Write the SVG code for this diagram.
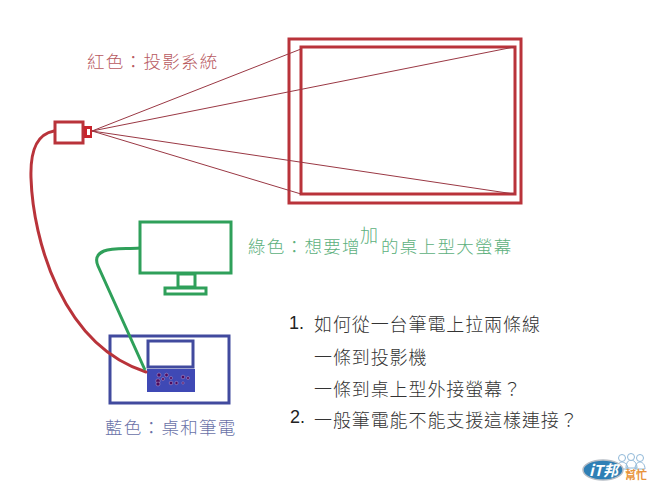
<svg xmlns="http://www.w3.org/2000/svg" width="653" height="490" viewBox="0 0 653 490">
<style>
text{font-family:"Noto Sans CJK TC","Noto Sans CJK JP",sans-serif;font-weight:300}
.r{fill:none;stroke:#b9333a;stroke-width:3}
.ray{fill:none;stroke:#9a3844;stroke-width:1}
.g{fill:none;stroke:#2fa05a;stroke-width:3}
.b{fill:none;stroke:#414a9e;stroke-width:3}
.lab{font-size:17.5px;letter-spacing:1.3px}
.q{font-size:18px;fill:#333;letter-spacing:.9px}
.n{font-family:"Liberation Sans",sans-serif;font-size:18px;fill:#222}
.d{fill:#4d0a5e;stroke:#b9a0d0;stroke-width:.5}
</style>
<rect width="653" height="490" fill="#fff"/>
<g id="screen-outer"><rect class="r" x="289" y="39" width="232" height="164"/></g>
<g id="screen-inner"><rect class="r" x="301" y="47" width="214" height="147"/></g>
<g id="projector">
<rect class="r" x="55" y="122" width="28" height="21"/>
<rect x="84" y="126" width="8" height="12" fill="#c8242c"/>
<rect x="87" y="129" width="3" height="6" fill="#fff"/>
</g>
<g id="monitor">
<rect class="g" x="140" y="222" width="91" height="51"/>
<rect class="g" x="178" y="274" width="17" height="13"/>
<rect class="g" x="165" y="288" width="41" height="6"/>
</g>
<g id="desk"><rect class="b" x="110" y="336" width="119" height="67"/></g>
<g id="laptop">
<rect class="b" x="148" y="341" width="45" height="26"/>
<rect x="147" y="369" width="48" height="23" fill="#3f49b5"/>
<g class="d"><circle cx="159" cy="375" r="2"/><circle cx="166.500" cy="375" r="1.800"/><circle cx="158" cy="381" r="2.200"/><circle cx="163" cy="379" r="1.500"/><circle cx="158" cy="384" r="2"/><circle cx="171" cy="378" r="1.500"/><circle cx="171" cy="383" r="1.800"/><circle cx="176.500" cy="383" r="1.600"/><circle cx="183" cy="377" r="1.800"/><circle cx="188" cy="378" r="1.500"/><circle cx="183" cy="383" r="1.200"/></g>
</g>
<g id="connectors">
<path class="r" d="M54 131C38 134 30 148 31 178C33 240 62 345 146 372" stroke-linecap="round"/>
<path class="g" d="M140 248C125 249 112 248 104 251C97 254 95 259 98 266L145 370"/>
<path class="ray" d="M92 131L301 49M92 131L514 47M92 131L514 194M92 131L301 194"/>
</g>
<g id="label-red"><text class="lab" x="87" y="68" fill="#b85a5f">紅色：投影系統</text></g>
<g id="label-green"><text class="lab" x="248" y="253" fill="#5cb07c">綠色：想要增</text><text x="360" y="242" font-size="18" fill="#5cb07c">加</text><text class="lab" x="381" y="253" fill="#5cb07c">的桌上型大螢幕</text></g>
<g id="label-blue"><text class="lab" x="105" y="434" fill="#6a72a8">藍色：桌和筆電</text></g>
<g id="questions">
<text class="n" x="289" y="329">1.</text>
<text class="q" x="314" y="331">如何從一台筆電上拉兩條線</text>
<text class="q" x="314" y="364">一條到投影機</text>
<text class="q" x="314" y="396">一條到桌上型外接螢幕？</text>
<text class="n" x="290" y="423">2.</text>
<text class="q" x="314" y="427">一般筆電能不能支援這樣連接？</text>
</g>
<g id="logo">
<g fill="#fff" stroke="#8fb8d8"><path d="M617 469c0-5 3-7 5-7s6 2 6 7zM626 468c0-6 3-8 5-8s6 2 6 8zM635 469c0-5 3-7 5-7s5 2 5 7z"/><circle cx="622" cy="458" r="3.500"/><circle cx="631" cy="457" r="3.500"/><circle cx="640" cy="458" r="3.500"/></g>
<ellipse cx="603" cy="470" rx="20" ry="10" fill="#2f7fb5" stroke="#b5bcc4" stroke-width="1.500"/>
<text x="589" y="476" font-size="15" font-style="italic" fill="#fff" style="font-weight:700">iT邦</text>
<text x="625" y="479" font-size="11" fill="#e8943a" style="font-weight:700">幫忙</text>
</g>
</svg>
